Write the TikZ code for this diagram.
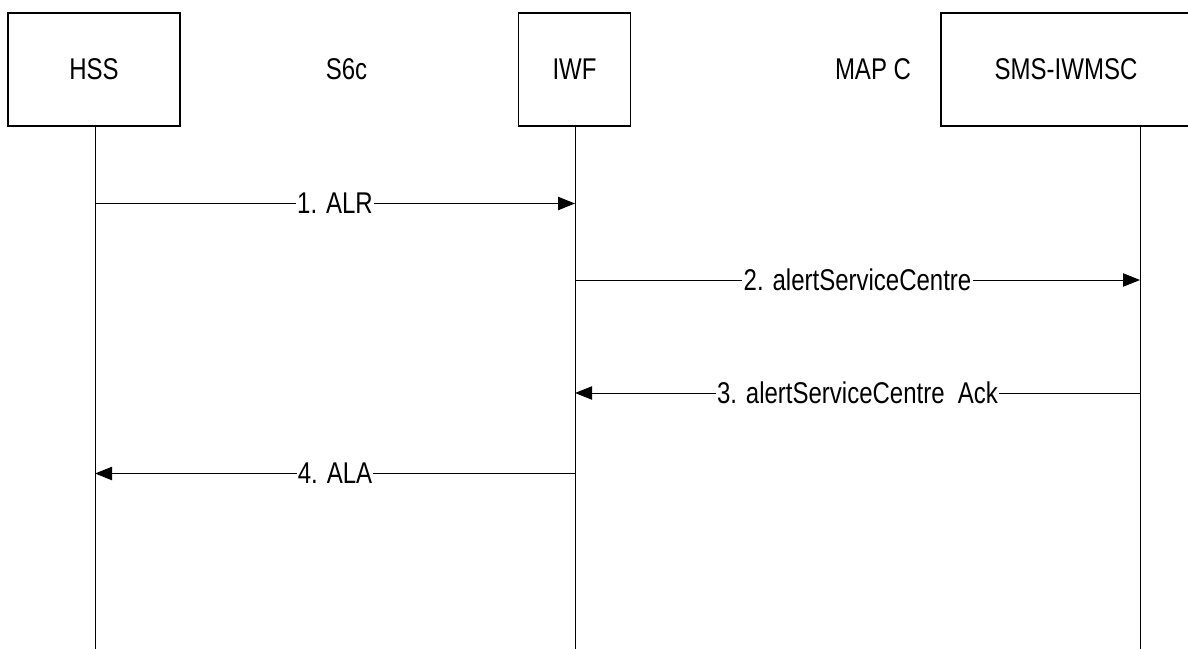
\documentclass[tikz,border=0pt]{standalone}
\usepackage{fontspec}
\setmainfont{Liberation Sans}[FakeStretch=0.8]
\usetikzlibrary{arrows.meta}
\begin{document}
\begin{tikzpicture}[x=0.75pt,y=-0.75pt,
  font=\fontsize{22.5pt}{27pt}\selectfont,
  entity/.style={draw=black,line width=0.9pt,minimum height=84.75pt,inner sep=0pt,fill=white},
  life/.style={draw=black,line width=0.75pt},
  msg/.style={draw=black,line width=0.75pt,-{Triangle[length=12.75pt,width=10pt]}},
  lbl/.style={fill=white,inner sep=1pt},
  iface/.style={inner sep=0pt}]
\useasboundingbox (0,0) rectangle (1188,649);
% entities
\node[entity,minimum width=129pt] (hss) at (94,69.5) {HSS};
\node[entity,minimum width=84pt] (iwf) at (574.5,69.5) {IWF};
\node[entity,minimum width=187.5pt] (sms) at (1066,69.5) {SMS-IWMSC};
% interface labels
\node[iface] (s6c) at (346.5,69) {S6c};
\node[iface] (mapc) at (873,69) {MAP C};
% lifelines
\coordinate (hssT) at (95,126);
\coordinate (hssB) at (95,649);
\coordinate (iwfT) at (575,126);
\coordinate (iwfB) at (575,649);
\coordinate (smsT) at (1140,126);
\coordinate (smsB) at (1140,649);
\draw[life] (hssT) -- (hssB);
\draw[life] (iwfT) -- (iwfB);
\draw[life] (smsT) -- (smsB);
% message points
\coordinate (h1) at (95,203.5);
\coordinate (i1) at (575,203.5);
\coordinate (i2) at (575,280);
\coordinate (s2) at (1140,280);
\coordinate (s3) at (1140,393);
\coordinate (i3) at (575,393);
\coordinate (i4) at (575,473.5);
\coordinate (h4) at (95,473.5);
% messages
\draw[msg] (h1) -- node[lbl] (m1) {1. ALR} (i1);
\draw[msg] (i2) -- node[lbl] (m2) {2. alertServiceCentre} (s2);
\draw[msg] (s3) -- node[lbl] (m3) {3. alertServiceCentre\ \ Ack} (i3);
\draw[msg] (i4) -- node[lbl] (m4) {4. ALA} (h4);
\end{tikzpicture}
\end{document}
